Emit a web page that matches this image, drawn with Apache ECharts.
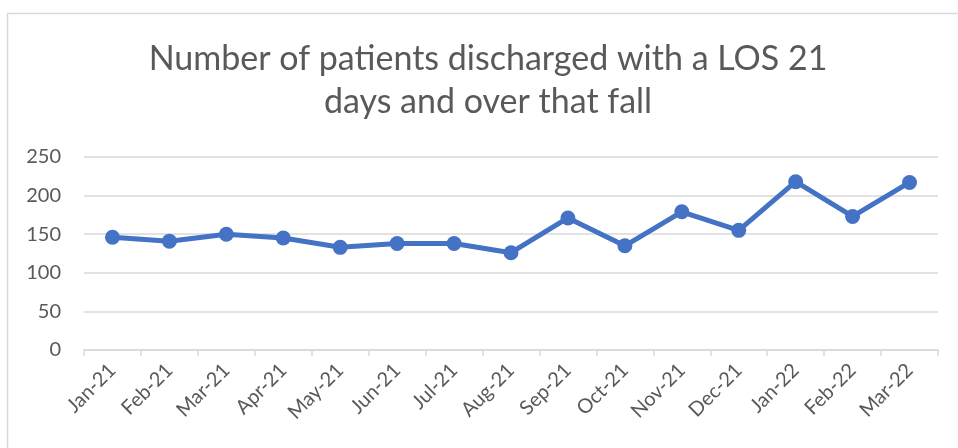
<!DOCTYPE html>
<html>
<head>
<meta charset="utf-8">
<script src="https://cdn.jsdelivr.net/npm/echarts@6/dist/echarts.min.js"></script>
<style>
  html, body { margin: 0; padding: 0; background: #fff; }
  #chart { width: 958px; height: 448px; }
</style>
</head>
<body>
<div id="chart"></div>
<script>
const months = ['Jan-21', 'Feb-21', 'Mar-21', 'Apr-21', 'May-21', 'Jun-21', 'Jul-21', 'Aug-21',
    'Sep-21', 'Oct-21', 'Nov-21', 'Dec-21', 'Jan-22', 'Feb-22', 'Mar-22']
const discharged = [146, 141, 150, 145, 133, 138, 138, 126, 171, 135, 179, 155, 218, 173, 217]
const yTicks = [0, 50, 100, 150, 200, 250]

const titleText = 'Number of patients discharged with a LOS 21\ndays and over that fall'
const textColor = '#595959'
const lineColor = '#4472C4'
const fontName = 'Lato'

let myChart = echarts.init(document.getElementById('chart'))

let option = {
    animation: false,
    backgroundColor: '#fff',
    graphic: [{
        type: 'rect',
        shape: { x: 7.5, y: 13.5, width: 1000, height: 500 },
        style: { fill: 'none', stroke: '#d9d9d9', lineWidth: 1.5 }
    }],
    title: {
        text: titleText,
        left: 488,
        textAlign: 'center',
        top: 38,
        padding: 0,
        textStyle: {
            fontFamily: fontName,
            fontWeight: 'normal',
            fontSize: 34,
            lineHeight: 43,
            color: textColor
        }
    },
    grid: {
        left: 84,
        right: 20,
        top: 157,
        bottom: 98
    },
    xAxis: {
        type: 'category',
        data: months,
        boundaryGap: true,
        axisLine: { lineStyle: { color: '#d9d9d9', width: 1.5 } },
        axisTick: { show: true, length: 6, lineStyle: { color: '#d9d9d9', width: 1.5 } },
        axisLabel: {
            rotate: 45,
            interval: 0,
            margin: 17,
            color: textColor,
            fontFamily: fontName,
            fontSize: 20
        }
    },
    yAxis: {
        type: 'value',
        min: yTicks[0],
        max: yTicks[yTicks.length - 1],
        interval: 50,
        axisLine: { show: false },
        axisTick: { show: false },
        splitLine: { lineStyle: { color: '#d9d9d9', width: 1.5 } },
        axisLabel: {
            margin: 23,
            color: textColor,
            fontFamily: fontName,
            fontSize: 20
        }
    },
    series: [{
        type: 'line',
        data: discharged,
        symbol: 'circle',
        symbolSize: 15,
        lineStyle: { color: lineColor, width: 5 },
        itemStyle: { color: lineColor }
    }]
}

myChart.setOption(option)
</script>
</body>
</html>
